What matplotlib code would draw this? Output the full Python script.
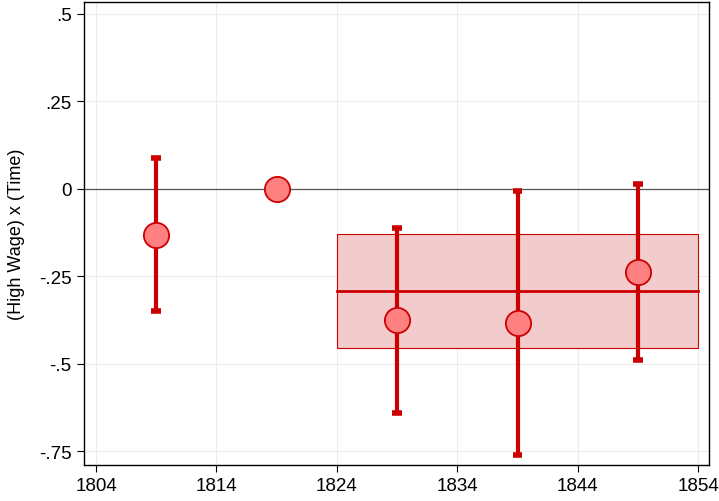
import numpy as np
import matplotlib
matplotlib.use("Agg")
import matplotlib.pyplot as plt
from matplotlib.patches import Rectangle

plt.rcParams['font.family'] = ['Liberation Sans', 'DejaVu Sans']

# point estimates and 95% intervals
years = [1809, 1819, 1829, 1839, 1849]
coefs = [-0.131, 0.0, -0.374, -0.383, -0.237]
ci_lo = [-0.349, np.nan, -0.640, -0.760, -0.491]
ci_hi = [0.089, np.nan, -0.111, -0.006, 0.014]

# pooled post-period estimate
pool_start, pool_end = 1824, 1854
pool_coef = -0.291
pool_lo, pool_hi = -0.454, -0.129

xticks = [1804, 1814, 1824, 1834, 1844, 1854]
yticks = [0.5, 0.25, 0, -0.25, -0.5, -0.75]
ytick_labels = ['.5', '.25', '0', '-.25', '-.5', '-.75']

red = '#cc0000'

fig = plt.figure(figsize=(7.19, 5.02), dpi=100)
ax = fig.add_axes([84 / 719, 36 / 502, 625 / 719, 463 / 502])

ax.grid(True, color='#ececec', linewidth=0.8)
ax.set_axisbelow(True)

ax.add_patch(Rectangle((pool_start, pool_lo), pool_end - pool_start, pool_hi - pool_lo,
                       facecolor='#f2cccc', edgecolor=red, linewidth=0.8, zorder=1))
ax.plot([pool_start, pool_end], [pool_coef, pool_coef], color=red, linewidth=2, zorder=2)

ax.axhline(0, color='#555555', linewidth=0.9, zorder=1.5)

for x, lo, hi in zip(years, ci_lo, ci_hi):
    if np.isnan(lo):
        continue
    ax.plot([x, x], [lo, hi], color=red, linewidth=3, zorder=3)
    ax.plot([x - 0.4, x + 0.4], [lo, lo], color=red, linewidth=4, solid_capstyle='butt', zorder=3)
    ax.plot([x - 0.4, x + 0.4], [hi, hi], color=red, linewidth=4, solid_capstyle='butt', zorder=3)

ax.scatter(years, coefs, s=330, facecolor='#ff8080', edgecolor=red, linewidth=1.3, zorder=4)

ax.set_xlim(1803.0, 1854.9)
ax.set_ylim(-0.79, 0.534)
ax.set_xticks(xticks)
ax.set_yticks(yticks)
ax.set_yticklabels(ytick_labels)
ax.tick_params(labelsize=13.5, length=5, width=0.8, color='black', pad=4)
ax.set_ylabel('(High Wage) x (Time)', fontsize=13, labelpad=10)
for s in ax.spines.values():
    s.set_color('black')
    s.set_linewidth(1.0)

fig.savefig('out.png', dpi=100)
